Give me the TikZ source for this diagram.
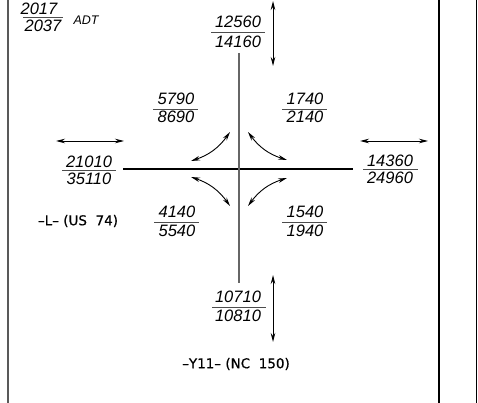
\documentclass[tikz,border=0pt]{standalone}
\usepackage{fontspec}
\setmainfont{Liberation Sans}
\newfontfamily\lblfont[FakeBold=0.6]{DejaVu Sans}
\usetikzlibrary{arrows.meta}
\tikzset{
  num/.style={font=\fontsize{16.5}{16.5}\selectfont\itshape, inner sep=0pt, anchor=center},
  bar/.style={draw=black!70, line width=0.9pt},
  road/.style={line width=1.2pt},
  dbl/.style={line width=0.9pt, {Stealth[length=9pt,width=4.5pt]}-{Stealth[length=9pt,width=4.5pt]}},
  lbl/.style={font=\lblfont\fontsize{13.5}{13.5}\selectfont, inner sep=0pt, anchor=center},
  frame/.style={line width=1.5pt},
}
\begin{document}
\begin{tikzpicture}[x=1pt,y=-1pt]
\useasboundingbox (0,0) rectangle (478,403);
% frame lines
\draw[frame, black!65] (8,0) -- (8,403);
\draw[frame] (439,0) -- (439,403);
\draw[frame] (476.5,0) -- (476.5,403);
% roads
\coordinate (Lw) at (123,169);
\coordinate (Le) at (353,169);
\coordinate (Yn) at (239,53);
\coordinate (Ys) at (239,283);
\draw[road] (Lw) -- (Le);
\draw[road, black!60] (Yn) -- (Ys);
% legend
\node[num] (adt1) at (39,9) {2017};
\node[num] (adt2) at (43,26) {2037};
\draw[bar] (23,17) -- (63,17);
\node[font=\fontsize{12.5}{12.5}\selectfont\itshape, inner sep=0pt] (adt) at (86,20.5) {ADT};
% north
\node[num] (n1) at (238,22) {12560};
\node[num] (n2) at (238,42) {14160};
\draw[bar] (211,32) -- (265,32);
\coordinate (na1) at (273,1);
\coordinate (na2) at (273,66);
\draw[dbl] (na1) -- (na2);
% south
\node[num] (s1) at (238,297) {10710};
\node[num] (s2) at (238,316) {10810};
\draw[bar] (212,307) -- (266,307);
\coordinate (sa1) at (273,275);
\coordinate (sa2) at (273,342);
\draw[dbl] (sa1) -- (sa2);
% west
\node[num] (w1) at (89,162) {21010};
\node[num] (w2) at (89,179) {35110};
\draw[bar] (62,170) -- (116,170);
\coordinate (wa1) at (56,141);
\coordinate (wa2) at (124,141);
\draw[dbl] (wa1) -- (wa2);
% east
\node[num] (e1) at (390,161) {14360};
\node[num] (e2) at (390,178) {24960};
\draw[bar] (363,169) -- (418,169);
\coordinate (ea1) at (360,141);
\coordinate (ea2) at (428,141);
\draw[dbl] (ea1) -- (ea2);
% quadrants
\node[num] (q1a) at (176,99) {5790};
\node[num] (q1b) at (176,117) {8690};
\draw[bar] (153,109) -- (198,109);
\node[num] (q2a) at (305,99) {1740};
\node[num] (q2b) at (305,117) {2140};
\draw[bar] (282,109) -- (327,109);
\node[num] (q3a) at (177,212) {4140};
\node[num] (q3b) at (177,231) {5540};
\draw[bar] (154,222) -- (199,222);
\node[num] (q4a) at (305,212) {1540};
\node[num] (q4b) at (305,231) {1940};
\draw[bar] (282,222) -- (327,222);
% turning arrows
\coordinate (ul1) at (191,161);
\coordinate (ul2) at (230,132);
\coordinate (ur1) at (248,132);
\coordinate (ur2) at (287,160);
\coordinate (ll1) at (230,206);
\coordinate (ll2) at (191,177);
\coordinate (lr1) at (287,178);
\coordinate (lr2) at (248,206);
\draw[dbl] (ul1) to[bend right=18] (ul2);
\draw[dbl] (ur1) to[bend right=18] (ur2);
\draw[dbl] (ll1) to[bend right=18] (ll2);
\draw[dbl] (lr1) to[bend right=18] (lr2);
% road names
\node[lbl] (lname) at (78,221) {–L– (US\ \ 74)};
\node[lbl] (yname) at (236,364) {–Y11– (NC\ \ 150)};
\end{tikzpicture}
\end{document}
